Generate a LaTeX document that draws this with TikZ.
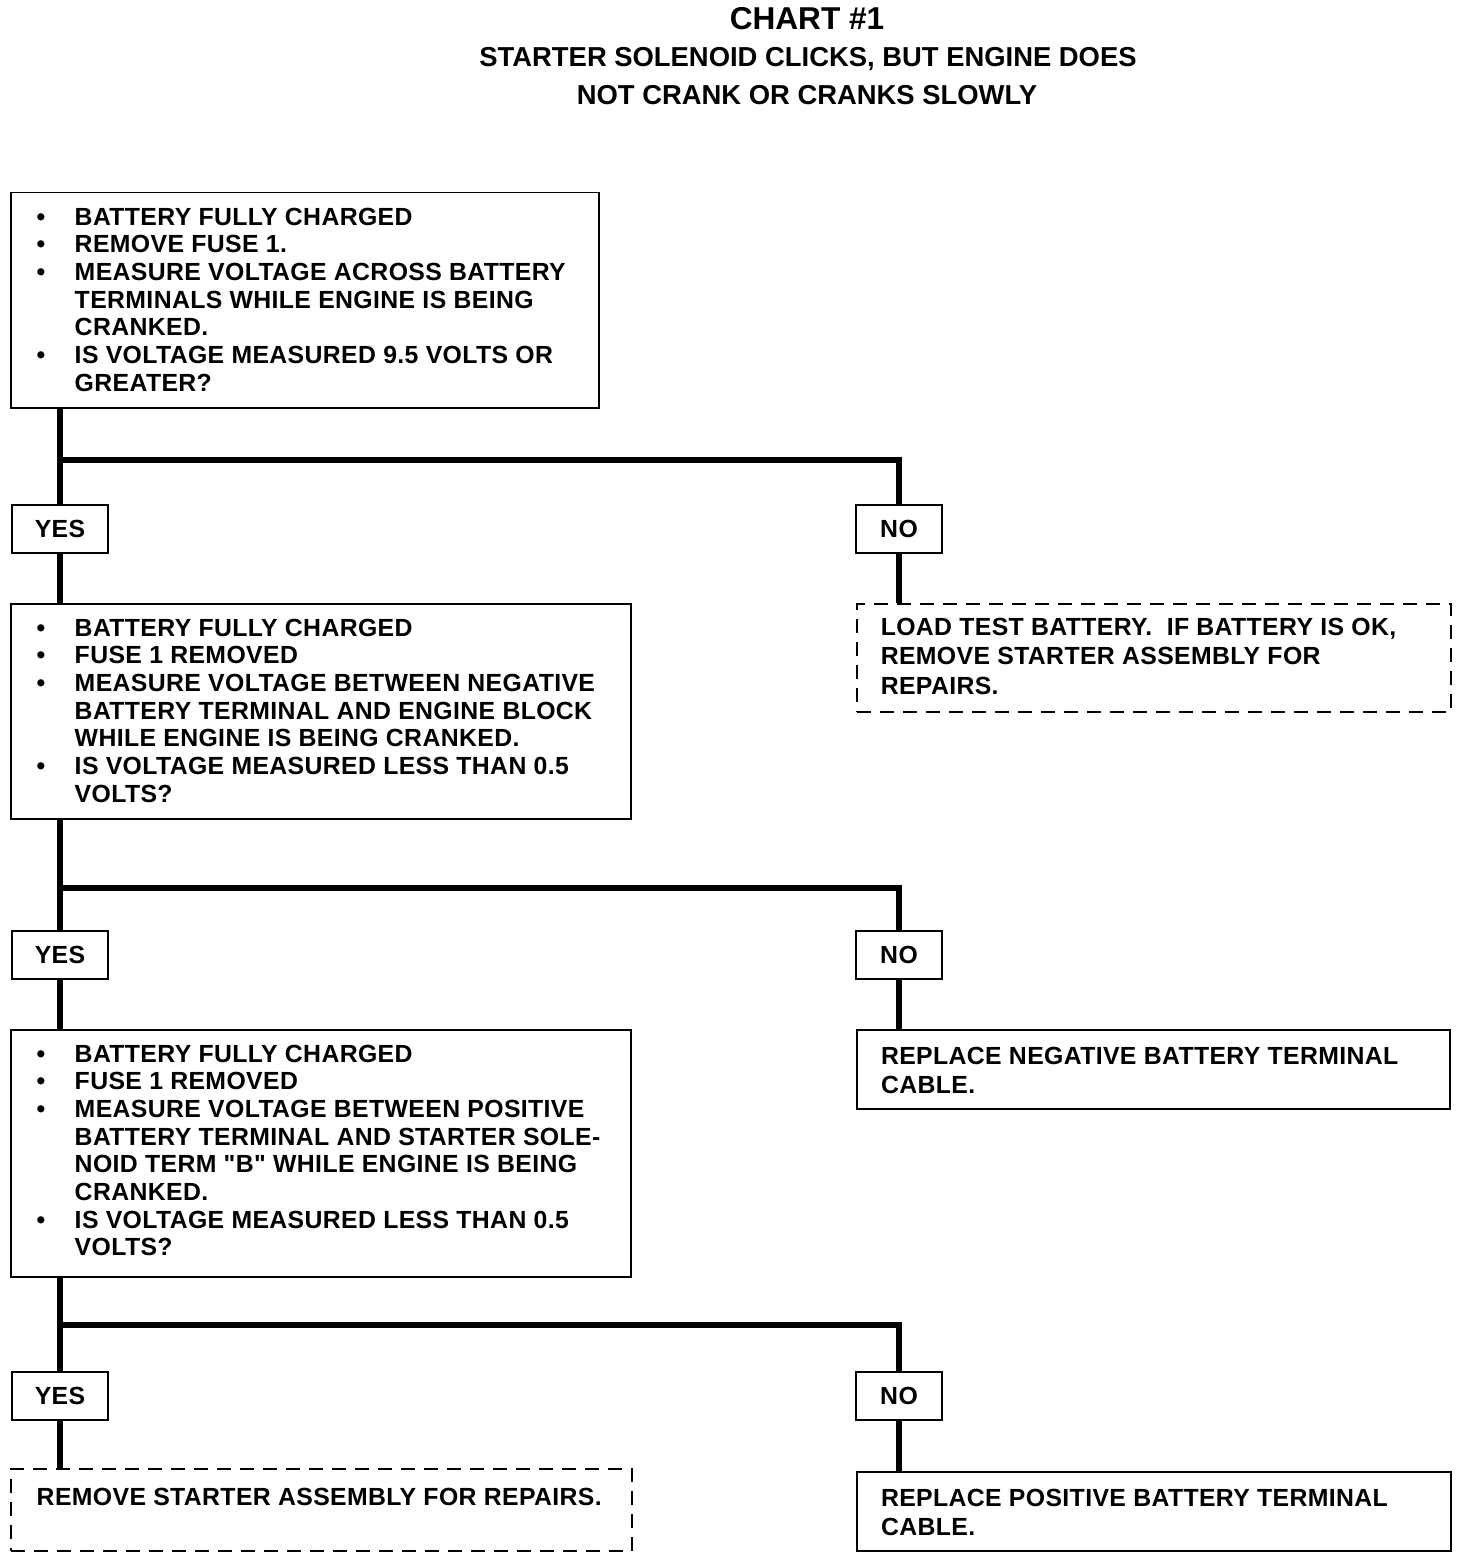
\documentclass[tikz,border=0pt]{standalone}
\usepackage{fontspec}
\setmainfont{Liberation Sans}
\newfontfamily\cardfam{Liberation Sans}[LetterSpace=1.5]
\definecolor{ink}{HTML}{000000}
\newcommand{\chartfont}{\cardfam\fontsize{12.4}{13.85}\selectfont\bfseries}
\newcommand{\bpt}[1]{\par\hangindent=19pt\hangafter=1\noindent\makebox[19pt][l]{\textbullet}#1}
\newcommand{\cardtext}[5]{\parbox[c][#2][t]{#1}{\leftskip=#3\rightskip=0pt plus 1fil\parindent=0pt\parfillskip=0pt plus 1fil\vspace*{#4}#5}}

\begin{document}
\begin{tikzpicture}[x=0.5pt, y=-0.5pt,
  wire/.style={ink, line width=3pt},
  card/.style={draw=ink, line width=0.75pt, inner sep=0pt, anchor=north west, font=\chartfont},
  dashcard/.style={card, dash pattern=on 7pt off 4.5pt},
  tag/.style={draw=ink, line width=1pt, minimum height=24pt, inner sep=0pt, font=\chartfont}]
\useasboundingbox (0,0) rectangle (1472,1556);
\node[font=\fontsize{15.8}{18}\selectfont\bfseries, anchor=base] (title) at (807,30) {CHART \#1};
\node[font=\fontsize{13.7}{16}\selectfont\bfseries, anchor=base] (sub1) at (808,67) {STARTER SOLENOID CLICKS, BUT ENGINE DOES};
\node[font=\fontsize{13.7}{16}\selectfont\bfseries, anchor=base] (sub2) at (807,105) {NOT CRANK OR CRANKS SLOWLY};

\node[card] (q1) at (10,192) {\cardtext{294pt}{107.5pt}{13pt}{7.5pt}{%
  \bpt{BATTERY FULLY CHARGED}
  \bpt{REMOVE FUSE 1.}
  \bpt{MEASURE VOLTAGE ACROSS BATTERY\\TERMINALS WHILE ENGINE IS BEING\\CRANKED.}
  \bpt{IS VOLTAGE MEASURED 9.5 VOLTS OR\\GREATER?}}};
\node[tag, minimum width=48pt] (yes1) at (60,529) {YES};
\node[tag, minimum width=43pt] (no1) at (899,529) {NO};
\coordinate (j1) at (60,460);

\node[card] (q2) at (10,603) {\cardtext{310pt}{107.5pt}{13pt}{7.5pt}{%
  \bpt{BATTERY FULLY CHARGED}
  \bpt{FUSE 1 REMOVED}
  \bpt{MEASURE VOLTAGE BETWEEN NEGATIVE\\BATTERY TERMINAL AND ENGINE BLOCK\\WHILE ENGINE IS BEING CRANKED.}
  \bpt{IS VOLTAGE MEASURED LESS THAN 0.5\\VOLTS?}}};
\node[dashcard] (n1) at (856,603) {\cardtext{297pt}{54pt}{12pt}{7pt}{\baselineskip=14.75pt
  LOAD TEST BATTERY.\ \ IF BATTERY IS OK,\\REMOVE STARTER ASSEMBLY FOR\\REPAIRS.}};
\node[tag, minimum width=48pt] (yes2) at (60,955) {YES};
\node[tag, minimum width=43pt] (no2) at (899,955) {NO};
\coordinate (j2) at (60,888);

\node[card] (q3) at (10,1029) {\cardtext{310pt}{123.5pt}{13pt}{7.5pt}{%
  \bpt{BATTERY FULLY CHARGED}
  \bpt{FUSE 1 REMOVED}
  \bpt{MEASURE VOLTAGE BETWEEN POSITIVE\\BATTERY TERMINAL AND STARTER SOLE-\\NOID TERM \char34 B\char34{} WHILE ENGINE IS BEING\\CRANKED.}
  \bpt{IS VOLTAGE MEASURED LESS THAN 0.5\\VOLTS?}}};
\node[card, line width=1pt] (n2) at (856,1029) {\cardtext{296.5pt}{39.5pt}{12pt}{8.5pt}{\baselineskip=14.5pt
  REPLACE NEGATIVE BATTERY TERMINAL\\CABLE.}};
\node[tag, minimum width=48pt] (yes3) at (60,1396) {YES};
\node[tag, minimum width=43pt] (no3) at (899,1396) {NO};
\coordinate (j3) at (60,1325);

\node[dashcard] (y3) at (10,1468) {\cardtext{310.5pt}{41pt}{13pt}{9.5pt}{%
  REMOVE STARTER ASSEMBLY FOR REPAIRS.}};
\node[card, line width=1pt] (n3) at (856,1471) {\cardtext{297pt}{39.5pt}{12pt}{8.5pt}{\baselineskip=14.5pt
  REPLACE POSITIVE BATTERY TERMINAL\\CABLE.}};

\draw[wire] (q1.south -| yes1) -- (yes1.north);
\draw[wire] (j1) -| (no1.north);
\draw[wire] (yes1.south) -- (yes1.south |- q2.north);
\draw[wire] (no1.south) -- (no1.south |- n1.north);
\draw[wire] (q2.south -| yes2) -- (yes2.north);
\draw[wire] (j2) -| (no2.north);
\draw[wire] (yes2.south) -- (yes2.south |- q3.north);
\draw[wire] (no2.south) -- (no2.south |- n2.north);
\draw[wire] (q3.south -| yes3) -- (yes3.north);
\draw[wire] (j3) -| (no3.north);
\draw[wire] (yes3.south) -- (yes3.south |- y3.north);
\draw[wire] (no3.south) -- (no3.south |- n3.north);
\end{tikzpicture}
\end{document}
